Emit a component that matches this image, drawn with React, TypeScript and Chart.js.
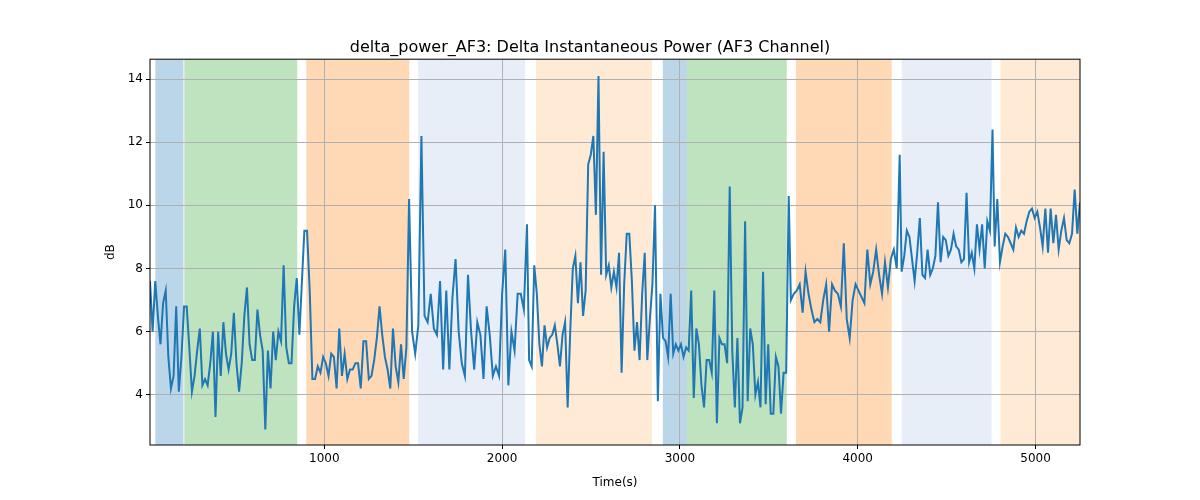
import React, { useEffect, useRef } from "react";
import { Chart, registerables } from "chart.js";
Chart.register(...registerables);

// segments of the series: [start time, end time] and values sampled evenly inside
const segTimes = [[20, 860], [888, 1477], [1494, 2140], [2152, 2860], [2876, 3612], [3624, 4236], [4247, 4758], [4770, 5250]];
const seg1 = [7.6,6.0,7.6,6.5,5.6,6.9,7.3,5.2,4.2,4.6,6.8,4.1,5.2,6.8,6.8,5.5,4.1,4.6,5.4,6.1,4.3,4.5,4.3,5.0,6.0,3.3,6.0,4.6,6.3,5.3,4.8,5.3,6.6,5.0,4.1,5.0,6.5,7.4,5.6,5.1,5.1,6.7,5.9,5.4,2.9,5.4,4.2,6.0,5.1,6.0,5.7,8.1,5.5,5.0,5.0,6.8,7.7,5.9];
const seg2 = [9.2,9.2,7.3,4.5,4.5,4.9,4.7,5.2,5.0,4.6,5.3,5.2,4.2,6.1,4.6,5.3,4.5,4.8,4.8,5.0,5.0,4.2,5.7,5.7,4.5,4.6,5.1,5.8,6.8,5.9,5.2,4.8,4.2,6.1,4.9,4.4,5.6,4.5,5.5,10.2];
const seg3 = [6.0,5.3,6.2,12.2,6.5,6.3,7.2,6.1,5.9,7.6,4.8,7.3,4.8,7.1,8.3,6.0,5.0,4.6,7.8,6.0,4.8,6.3,5.9,4.5,6.8,5.9,4.6,4.9,4.6,7.2,8.6,4.3,6.0,5.4,7.2,7.2,6.7,9.4];
const seg4 = [5.1,4.9,8.1,7.2,5.6,4.9,6.2,5.5,5.8,5.9,6.2,5.6,4.9,5.9,6.3,3.6,6.0,8.0,8.4,6.9,8.2,6.5,7.3,11.3,11.6,12.2,9.7,14.1,7.8,11.7,7.8,8.1,7.4,7.9,7.4,8.5,4.7,7.5,9.1,9.1,7.6,5.4,6.3,5.1,7.2,8.5,5.1,6.4,7.5,10.0];
const seg5 = [3.8,7.2,5.8,5.7,5.2,7.2,5.3,5.6,5.4,5.6,5.2,5.5,5.4,7.3,3.9,6.1,5.6,4.3,3.6,5.1,5.1,4.7,7.3,3.1,5.8,5.6,5.6,5.0,10.6,5.4,3.6,5.8,3.1,3.6,9.5,3.8,6.1,5.6,4.0,4.4,3.6,7.9,3.7,5.6,3.4,3.4,5.2,4.9,3.4,4.7,4.7,10.3];
const seg6 = [7.0,7.2,7.3,7.5,6.6,7.9,7.2,6.7,6.3,6.4,6.3,7.0,7.5,6.0,7.5,7.3,7.2,6.8,8.8,6.4,5.8,7.0,7.5,7.3,7.1,6.9,8.6,7.5,7.9,8.6,7.8,7.2,8.2,7.4,8.3,8.6,8.0,11.6];
const seg7 = [7.9,8.4,9.2,9.0,8.3,7.6,8.5,9.6,7.8,7.7,8.6,7.8,8.0,8.4,10.1,8.2,9.0,8.9,8.4,8.6,9.1,8.7,8.6,8.2,8.3,10.4,8.2,8.5,8.0,9.4,8.6,9.4,8.0,9.5,9.2,12.4];
const seg8 = [8.7,10.2,8.2,8.7,9.1,9.0,8.8,8.6,9.3,9.0,9.2,9.1,9.5,9.8,9.9,9.6,9.8,9.3,8.7,9.9,8.5,9.9,8.8,9.7,8.6,9.2,9.6,8.9,8.8,9.1,10.5,9.1,10.1];
const segValues = [seg1, seg2, seg3, seg4, seg5, seg6, seg7, seg8];

const spanStarts = [50, 213, 899, 1528, 2191, 2904, 3039, 3652, 4247, 4803];
const spanEnds = [208, 848, 1478, 2129, 2843, 3039, 3601, 4191, 4753, 5260];
const spanColors = [
  "rgba(31,119,180,0.3)", "rgba(44,160,44,0.3)", "rgba(255,127,14,0.3)",
  "rgba(174,199,232,0.3)", "rgba(255,187,120,0.3)",
  "rgba(31,119,180,0.3)", "rgba(44,160,44,0.3)", "rgba(255,127,14,0.3)",
  "rgba(174,199,232,0.3)", "rgba(255,187,120,0.3)"
];
const xTicks = [1000, 2000, 3000, 4000, 5000];
const yTicks = [4, 6, 8, 10, 12, 14];

export default function App() {
  const ref = useRef<HTMLCanvasElement>(null);
  useEffect(() => {
    document.body.style.margin = "0";
    const pts: { x: number; y: number }[] = [];
    segValues.forEach((vals, si) => {
      const [t0, t1] = segTimes[si];
      const st = (t1 - t0) / (vals.length - 1);
      vals.forEach((v, i) => pts.push({ x: t0 + i * st, y: v }));
    });
    const spanPlugin = {
      id: "spans",
      beforeDraw(chart: any) {
        const { ctx, chartArea: a, scales } = chart;
        ctx.save();
        ctx.beginPath();
        ctx.rect(a.left, a.top, a.right - a.left, a.bottom - a.top);
        ctx.clip();
        spanStarts.forEach((s, i) => {
          const x0 = scales.x.getPixelForValue(s);
          const x1 = scales.x.getPixelForValue(spanEnds[i]);
          ctx.fillStyle = spanColors[i];
          ctx.fillRect(x0, a.top, x1 - x0, a.bottom - a.top);
        });
        ctx.restore();
      },
      afterDraw(chart: any) {
        const { ctx, chartArea: a } = chart;
        ctx.save();
        ctx.strokeStyle = "#000";
        ctx.lineWidth = 1;
        ctx.strokeRect(a.left, a.top, a.right - a.left, a.bottom - a.top);
        ctx.restore();
      },
    };
    const font = { family: "DejaVu Sans", size: 12 };
    const chart = new Chart(ref.current!, {
      type: "line",
      data: {
        datasets: [{
          data: pts, borderColor: "#1f77b4", borderWidth: 2,
          pointRadius: 0, tension: 0, fill: false,
        }],
      },
      options: {
        animation: false, responsive: false,
        layout: { padding: { left: 100, right: 120, top: 0, bottom: 0 } },
        plugins: {
          legend: { display: false }, tooltip: { enabled: false },
          title: {
            display: true, text: "delta_power_AF3: Delta Instantaneous Power (AF3 Channel)",
            color: "#000", font: { family: "DejaVu Sans", size: 16, weight: "normal" },
            padding: { top: 38, bottom: 2 },
          },
        },
        scales: {
          x: {
            type: "linear", min: 20, max: 5250,
            afterBuildTicks: (s: any) => { s.ticks = xTicks.map((v) => ({ value: v })); },
            afterFit: (s: any) => { s.height = 55; },
            grid: { color: "#b0b0b0", tickLength: 4, tickColor: "#000" },
            border: { display: false },
            ticks: { color: "#000", font, maxRotation: 0, callback: (v: any) => String(v) },
            title: { display: true, text: "Time(s)", color: "#000", font, padding: { top: 0, bottom: 10 } },
          },
          y: {
            min: 2.41, max: 14.63,
            afterBuildTicks: (s: any) => { s.ticks = yTicks.map((v) => ({ value: v })); },
            afterFit: (s: any) => { s.width = 50; },
            grid: { color: "#b0b0b0", tickLength: 4, tickColor: "#000" },
            border: { display: false },
            ticks: { color: "#000", font, callback: (v: any) => String(v) },
            title: { display: true, text: "dB", color: "#000", font },
          },
        },
      },
      plugins: [spanPlugin],
    });
    return () => chart.destroy();
  }, []);
  return <canvas ref={ref} width={1200} height={500} style={{ display: "block" }} />;
}
